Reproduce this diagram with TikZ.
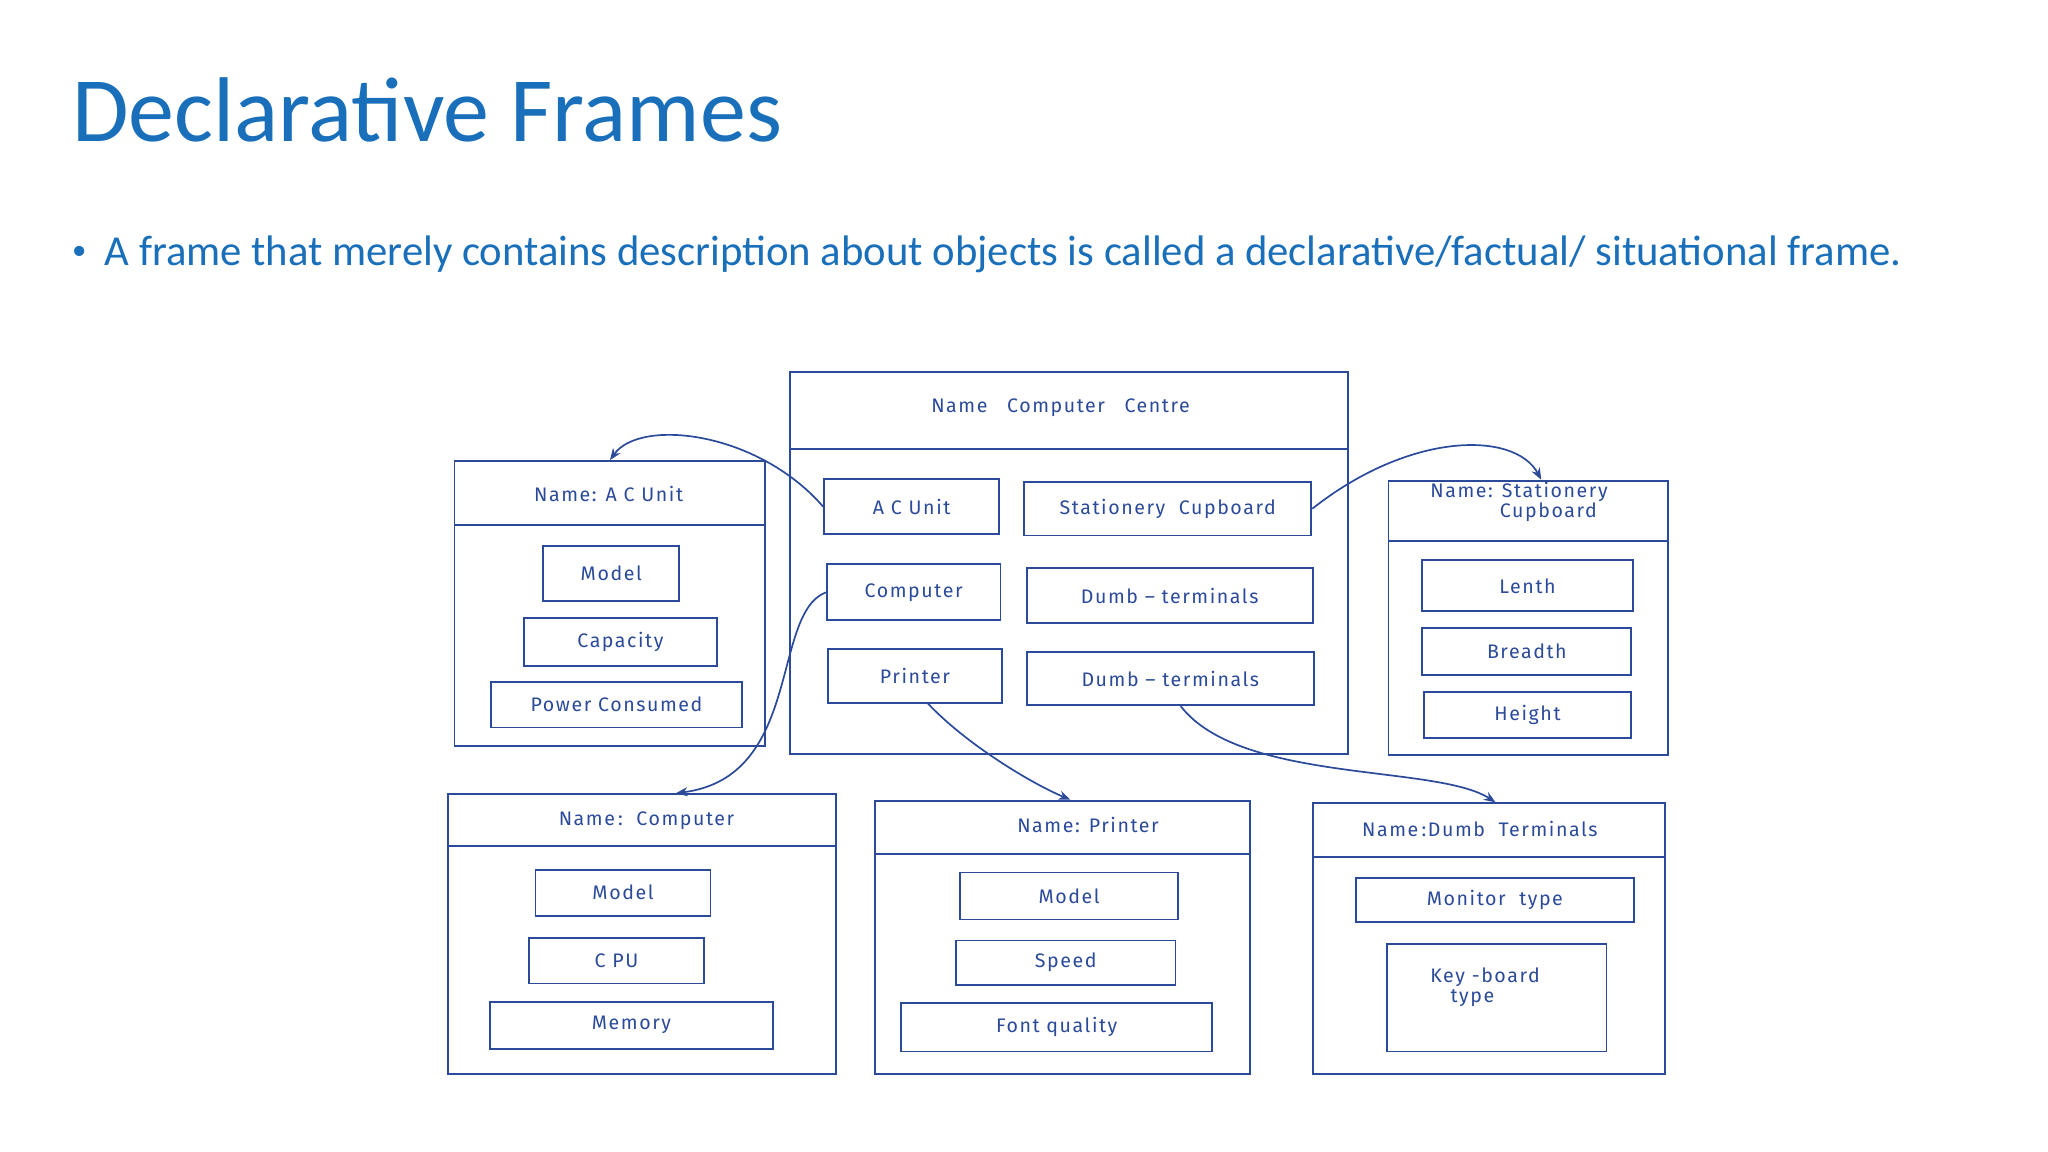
\documentclass[tikz,border=0pt]{standalone}
\usepackage{fontspec}
\setmainfont{Carlito}
\newfontfamily\hand[LetterSpace=8]{Fira Sans}
\usetikzlibrary{arrows.meta,calc}
\definecolor{ttl}{HTML}{1A6FBA}
\definecolor{ink}{HTML}{2B4A9A}
\begin{document}
\begin{tikzpicture}[x=1pt,y=-1pt,
  bx/.style={draw=ink,line width=1.4pt,inner sep=0pt,text=ink,font=\hand\fontsize{15}{17}\selectfont},
  fr/.style={draw=ink,line width=1.4pt,inner sep=0pt},
  lb/.style={text=ink,font=\hand\fontsize{15}{15}\selectfont,align=center},
  ar/.style={draw=ink,line width=1.3pt,-{Stealth[length=9pt,width=7pt]}}]
\path[use as bounding box,fill=white] (0,0) rectangle (1568,882);
\node[anchor=base west,text=ttl,font=\fontsize{70.4}{70}\selectfont,inner sep=0pt] (title) at (55,108) {Declarative Frames};
\node[anchor=base west,text=ttl,font=\fontsize{32.7}{32}\selectfont,inner sep=0pt] (bul) at (55,203) {{\fontsize{22}{22}\selectfont\raisebox{4pt}{\textbullet}}\hspace{14pt}A frame that merely contains description about objects is called a declarative/factual/ situational frame.};
% Centre
\node[fr,minimum width=427,minimum height=292] (cc) at (818.5,431) {};
\path (0,344) coordinate (d0);
\draw[ink,line width=1.4pt] (cc.west |- d0) -- (cc.east |- d0);
\node[lb] (cct) at (812,312) {Name\quad Computer\quad Centre};
\node[bx,minimum width=134,minimum height=42] (iac) at (698,388) {A C Unit};
\node[bx,minimum width=220,minimum height=41] (ist) at (894,389.5) {Stationery\ \ Cupboard};
\node[bx,minimum width=133,minimum height=43] (ico) at (699.5,453.5) {Computer};
\node[bx,minimum width=219,minimum height=42] (id1) at (895.5,456) {Dumb \textendash\ terminals};
\node[bx,minimum width=133,minimum height=41] (ipr) at (700.5,517.5) {Printer};
\node[bx,minimum width=220,minimum height=41] (id2) at (896,519.5) {Dumb \textendash\ terminals};
% AC
\node[fr,minimum width=238,minimum height=218] (fac) at (467,462) {};
\path (0,402) coordinate (d1);
\draw[ink,line width=1.4pt] (fac.west |- d1) -- (fac.east |- d1);
\node[lb] (tac) at (466,378) {Name: A C Unit};
\node[bx,minimum width=104,minimum height=42] (am) at (468,439) {Model};
\node[bx,minimum width=148,minimum height=37] (acap) at (475,491.5) {Capacity};
\node[bx,minimum width=192,minimum height=35] (apw) at (472,539.5) {Power Consumed};
% Stationery
\node[fr,minimum width=214,minimum height=210] (fst) at (1170,473) {};
\path (0,414) coordinate (d2);
\draw[ink,line width=1.4pt] (fst.west |- d2) -- (fst.east |- d2);
\node[lb,font=\hand\fontsize{15}{14}\selectfont] (tst) at (1163,384) {Name: Stationery\\\hspace{3em}Cupboard};
\node[bx,minimum width=161,minimum height=39] (sl) at (1169.5,448.5) {Lenth};
\node[bx,minimum width=160,minimum height=36] (sb) at (1169,499) {Breadth};
\node[bx,minimum width=159,minimum height=35] (sh) at (1169.5,547.5) {Height};
% Computer
\node[fr,minimum width=297,minimum height=214] (fco) at (491.5,715) {};
\path (0,648) coordinate (d3);
\draw[ink,line width=1.4pt] (fco.west |- d3) -- (fco.east |- d3);
\node[lb] (tco) at (495,628) {Name\,:\ \ Computer};
\node[bx,minimum width=134,minimum height=35] (cm) at (477,683.5) {Model};
\node[bx,minimum width=134,minimum height=35] (cc2) at (472,735.5) {C PU};
\node[bx,minimum width=217,minimum height=36] (cme) at (483.5,785) {Memory};
% Printer
\node[fr,minimum width=287,minimum height=209] (fpr) at (813.5,717.5) {};
\path (0,654) coordinate (d4);
\draw[ink,line width=1.4pt] (fpr.west |- d4) -- (fpr.east |- d4);
\node[lb] (tpr) at (833,632) {Name: Printer};
\node[bx,minimum width=167,minimum height=36] (pm) at (818.5,686) {Model};
\node[bx,minimum width=168,minimum height=34] (ps) at (816,737) {Speed};
\node[bx,minimum width=238,minimum height=37] (pf) at (809,786.5) {Font quality};
% Dumb terminals
\node[fr,minimum width=270,minimum height=207] (fdt) at (1140,718.5) {};
\path (0,656) coordinate (d5);
\draw[ink,line width=1.4pt] (fdt.west |- d5) -- (fdt.east |- d5);
\node[lb] (tdt) at (1133,635) {Name\,:Dumb\ \ Terminals};
\node[bx,minimum width=213,minimum height=34] (dm) at (1144.5,689) {Monitor\ \ type};
\node[fr,minimum width=168,minimum height=82] (dk) at (1146,764) {};
\node[lb,align=left] (dkt) at (1137,756) {Key -board\\\ \ \ type};
% arrows
\draw[ar] (iac.west) .. controls (580,330) and (490,320) .. (fac.north);
\draw[ar] (ist.east) .. controls (1080,330) and (1160,330) .. ($(fst.north)+(10,0)$);
\draw[ar] (ico.west) .. controls (590,470) and (615,595) .. ($(fco.north)+(26,0)$);
\draw[ar] ($(ipr.south)+(10,0)$) .. controls (740,570) and (790,600) .. ($(fpr.north)+(6,0)$);
\draw[ar] ($(id2.south)+(8,0)$) .. controls (950,600) and (1100,585) .. ($(fdt.north)+(5,0)$);
\end{tikzpicture}
\end{document}
